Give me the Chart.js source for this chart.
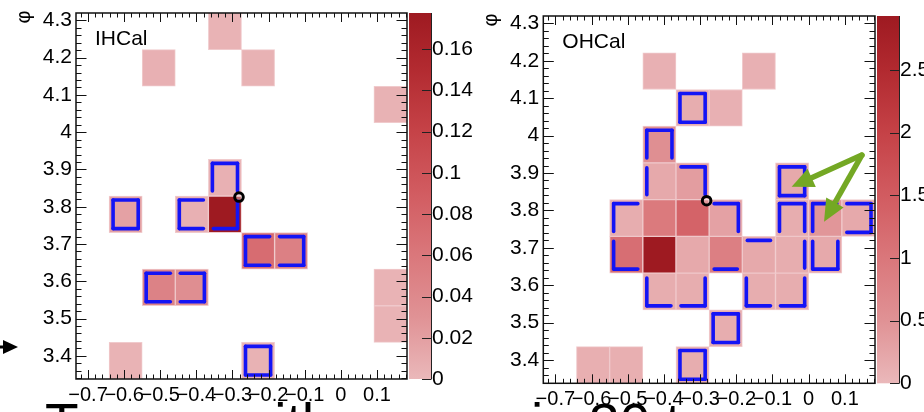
<!DOCTYPE html>
<html>
<head>
<meta charset="utf-8">
<script src="https://cdn.jsdelivr.net/npm/chart.js@4.4.0/dist/chart.umd.min.js"></script>
<style>
  body { margin: 0; background: #fff; width: 924px; height: 412px; overflow: hidden; position: relative; }
  canvas { position: absolute; top: 0; }
  #ihcal { left: 0; }
  #ohcal { left: 460px; }
  #caption { position: absolute; left: 45px; top: 396px; font: 55px "Liberation Sans", Arial, sans-serif; line-height: 1; white-space: nowrap; color: #000; }
</style>
</head>
<body>
<canvas id="ihcal" width="480" height="412"></canvas>
<canvas id="ohcal" width="464" height="412"></canvas>
<div id="caption">Towers with energy in 30 t</div>
<script>
// tower grid (eta = x, phi = y), 10 x 10 bins shown
const etaEdges = [-0.7333, -0.6417, -0.5500, -0.4583, -0.3667, -0.2750, -0.1833, -0.0917, 0.0000, 0.0917, 0.1833];
const phiEdges = [3.3379, 3.4361, 3.5343, 3.6325, 3.7306, 3.8288, 3.9270, 4.0252, 4.1233, 4.2215, 4.3197];
const etaTicks = [-0.7, -0.6, -0.5, -0.4, -0.3, -0.2, -0.1, 0, 0.1];
const etaTickLabels = ["\u22120.7", "\u22120.6", "\u22120.5", "\u22120.4", "\u22120.3", "\u22120.2", "\u22120.1", "0", "0.1"];
const phiTicks = [3.4, 3.5, 3.6, 3.7, 3.8, 3.9, 4.0, 4.1, 4.2, 4.3];
const phiTickLabels = ["3.4", "3.5", "3.6", "3.7", "3.8", "3.9", "4", "4.1", "4.2", "4.3"];

// IHCal towers: eta bin, phi bin, energy, cluster id (0 = not clustered)
const ihcalEtaBin  = [4, 2, 5, 9, 4, 1, 3, 4, 5, 6, 2, 3, 9, 9, 1, 5];
const ihcalPhiBin  = [9, 8, 8, 7, 5, 4, 4, 4, 3, 3, 2, 2, 2, 1, 0, 0];
const ihcalEnergy  = [0.004, 0.006, 0.005, 0.005, 0.006, 0.018, 0.006, 0.1775, 0.072, 0.05, 0.048, 0.035, 0.004, 0.004, 0.004, 0.005];
const ihcalCluster = [0, 0, 0, 0, 1, 1, 1, 1, 1, 1, 1, 1, 0, 0, 0, 1];
const ihcalZMax = 0.1775;
const ihcalZTicks = [0, 0.02, 0.04, 0.06, 0.08, 0.1, 0.12, 0.14, 0.16];
const ihcalZLabels = ["0", "0.02", "0.04", "0.06", "0.08", "0.1", "0.12", "0.14", "0.16"];

// OHCal towers
const ohcalEtaBin  = [3, 6, 4, 5, 3, 3, 4, 7, 2, 3, 4, 5, 7, 8, 9, 2, 3, 4, 5, 6, 7, 8, 3, 4, 6, 7, 5, 1, 2, 4];
const ohcalPhiBin  = [8, 8, 7, 7, 6, 5, 5, 5, 4, 4, 4, 4, 4, 4, 4, 3, 3, 3, 3, 3, 3, 3, 2, 2, 2, 2, 1, 0, 0, 0];
const ohcalEnergy  = [0.10, 0.10, 0.15, 0.10, 0.55, 0.20, 0.35, 0.20, 0.15, 0.95, 1.35, 0.30, 0.15, 0.45, 0.20,
                      1.15, 2.93, 0.20, 0.85, 0.20, 0.15, 0.20, 0.15, 0.15, 0.15, 0.15, 0.15, 0.12, 0.12, 0.15];
const ohcalCluster = [0, 0, 1, 0, 1, 1, 1, 2, 1, 1, 1, 1, 1, 3, 3, 1, 1, 1, 1, 1, 1, 3, 1, 1, 1, 1, 1, 0, 0, 1];
const ohcalZMax = 2.93;
const ohcalZTicks = [0, 0.5, 1, 1.5, 2, 2.5];
const ohcalZLabels = ["0", "0.5", "1", "1.5", "2", "2.5"];

// leading jet axis and the annotation arrows (OHCal)
const leadEta = [-0.282];
const leadPhi = [3.826];
const arrowStartEta = [0.147, 0.147];
const arrowStartPhi = [3.948, 3.948];
const arrowEndEta = [-0.047, 0.0425];
const arrowEndPhi = [3.863, 3.770];

const palette = [
  [0.00, 234, 184, 186],
  [0.17, 224, 146, 149],
  [0.34, 218, 119, 123],
  [0.50, 210, 93, 98],
  [0.68, 197, 66, 71],
  [0.85, 178, 42, 48],
  [1.00, 158, 26, 33]
];

function heatColor(t) {
  t = Math.max(0, Math.min(1, t));
  for (let i = 1; i < palette.length; i++) {
    if (t <= palette[i][0]) {
      const a = palette[i - 1], b = palette[i];
      const f = (t - a[0]) / (b[0] - a[0]);
      const c = [1, 2, 3].map(k => Math.round(a[k] + (b[k] - a[k]) * f));
      return `rgb(${c[0]},${c[1]},${c[2]})`;
    }
  }
  return "rgb(158,26,33)";
}

Chart.defaults.font.family = '"Liberation Sans", Arial, Helvetica, sans-serif';
Chart.defaults.color = "#000";

// frame with ROOT-style inward ticks, colour bar, cluster outlines
const hcalPlugin = {
  id: "hcal",
  afterDatasetDraw(chart, args) {
    if (args.meta.type !== "bar") return;
    const ctx = chart.ctx;
    const xs = chart.scales.x, ys = chart.scales.y;
    const p = chart.options.plugins.hcal;
    const key = (e, f) => e + "," + f;
    const ids = {};
    p.etaBin.forEach((e, i) => { if (p.cluster[i]) ids[key(e, p.phiBin[i])] = p.cluster[i]; });
    ctx.save();
    ctx.strokeStyle = "#1414f5";
    ctx.lineWidth = 3.6;
    ctx.lineCap = "round";
    const ins = 4, gapIns = 5;
    p.etaBin.forEach((e, i) => {
      const id = p.cluster[i];
      if (!id) return;
      const f = p.phiBin[i];
      const x0 = xs.getPixelForValue(etaEdges[e]), x1 = xs.getPixelForValue(etaEdges[e + 1]);
      const y0 = ys.getPixelForValue(phiEdges[f + 1]), y1 = ys.getPixelForValue(phiEdges[f]);
      const top = ids[key(e, f + 1)] !== id, bot = ids[key(e, f - 1)] !== id;
      const lft = ids[key(e - 1, f)] !== id, rgt = ids[key(e + 1, f)] !== id;
      const seg = (ax, ay, bx, by) => { ctx.beginPath(); ctx.moveTo(ax, ay); ctx.lineTo(bx, by); ctx.stroke(); };
      if (top) seg(x0 + (lft ? ins : gapIns), y0 + ins, x1 - (rgt ? ins : gapIns), y0 + ins);
      if (bot) seg(x0 + (lft ? ins : gapIns), y1 - ins, x1 - (rgt ? ins : gapIns), y1 - ins);
      if (lft) seg(x0 + ins, y0 + (top ? ins : gapIns), x0 + ins, y1 - (bot ? ins : gapIns));
      if (rgt) seg(x1 - ins, y0 + (top ? ins : gapIns), x1 - ins, y1 - (bot ? ins : gapIns));
    });
    ctx.restore();
  },
  afterDraw(chart) {
    const ctx = chart.ctx;
    const a = chart.chartArea;
    const xs = chart.scales.x, ys = chart.scales.y, zs = chart.scales.z;
    const p = chart.options.plugins.hcal;
    ctx.save();
    // colour bar
    const bx0 = a.right + 2, bx1 = a.right + 24;
    const zt = zs.getPixelForValue(zs.max), zb = zs.getPixelForValue(0);
    const g = ctx.createLinearGradient(0, zb, 0, zt);
    palette.forEach(s => g.addColorStop(s[0], `rgb(${s[1]},${s[2]},${s[3]})`));
    ctx.fillStyle = g;
    ctx.fillRect(bx0, zt, bx1 - bx0, zb - zt);
    ctx.strokeStyle = "#222";
    ctx.lineWidth = 1;
    ctx.beginPath();
    ctx.moveTo(bx1 + 0.5, zt); ctx.lineTo(bx1 + 0.5, zb);
    zs.ticks.forEach((t, i) => {
      const yy = Math.round(zs.getPixelForTick(i)) + 0.5;
      ctx.moveTo(bx1 + 0.5, yy); ctx.lineTo(bx1 - 9, yy);
    });
    ctx.stroke();
    // frame
    ctx.strokeStyle = "#111";
    ctx.lineWidth = 1.5;
    ctx.strokeRect(a.left, a.top, a.right - a.left, a.bottom - a.top);
    ctx.lineWidth = 1;
    ctx.beginPath();
    const isMajor = v => Math.abs(v * 10 - Math.round(v * 10)) < 1e-6;
    for (let k = Math.ceil(xs.min / 0.02 - 1e-6); k * 0.02 <= xs.max + 1e-9; k++) {
      const v = k * 0.02, len = isMajor(v) ? 9 : 4.5;
      const xx = Math.round(xs.getPixelForValue(v)) + 0.5;
      ctx.moveTo(xx, a.bottom); ctx.lineTo(xx, a.bottom - len);
      ctx.moveTo(xx, a.top); ctx.lineTo(xx, a.top + len);
    }
    for (let k = Math.ceil(ys.min / 0.02 - 1e-6); k * 0.02 <= ys.max + 1e-9; k++) {
      const v = k * 0.02, len = isMajor(v) ? 10.5 : 5.5;
      const yy = Math.round(ys.getPixelForValue(v)) + 0.5;
      ctx.moveTo(a.left, yy); ctx.lineTo(a.left + len, yy);
      ctx.moveTo(a.right, yy); ctx.lineTo(a.right - len, yy);
    }
    ctx.stroke();
    // axis title (phi, rotated like ROOT draws it) and panel label
    ctx.fillStyle = "#000";
    ctx.save();
    ctx.translate(p.titleX, a.top + 4);
    ctx.rotate(-Math.PI / 2);
    ctx.font = '20px "Liberation Sans", Arial, sans-serif';
    ctx.textAlign = "center";
    ctx.textBaseline = "middle";
    ctx.fillText("\u03c6", 0, 0);
    ctx.restore();
    ctx.font = '21px "Liberation Sans", Arial, sans-serif';
    ctx.textBaseline = "top";
    ctx.fillText(p.label, a.left + 19, a.top + 16);
    // green arrows
    if (p.arrows) {
      ctx.strokeStyle = "#74a824";
      ctx.fillStyle = "#74a824";
      ctx.lineWidth = 5.5;
      ctx.lineCap = "round";
      arrowStartEta.forEach((e, i) => {
        const sx = xs.getPixelForValue(e), sy = ys.getPixelForValue(arrowStartPhi[i]);
        const ex = xs.getPixelForValue(arrowEndEta[i]), ey = ys.getPixelForValue(arrowEndPhi[i]);
        const ang = Math.atan2(ey - sy, ex - sx);
        const hl = 22, hw = 10;
        const bxp = ex - hl * Math.cos(ang), byp = ey - hl * Math.sin(ang);
        ctx.beginPath(); ctx.moveTo(sx, sy); ctx.lineTo(bxp, byp); ctx.stroke();
        ctx.beginPath();
        ctx.moveTo(ex, ey);
        ctx.lineTo(bxp + hw * Math.sin(ang), byp - hw * Math.cos(ang));
        ctx.lineTo(bxp - hw * Math.sin(ang), byp + hw * Math.cos(ang));
        ctx.closePath(); ctx.fill();
      });
    }
    // slide pointer on the far left
    if (p.pointer) {
      ctx.fillStyle = "#000";
      ctx.fillRect(0, 345.5, 6, 3);
      ctx.beginPath();
      ctx.moveTo(3, 340); ctx.lineTo(18, 347); ctx.lineTo(3, 354); ctx.closePath(); ctx.fill();
    }
    ctx.restore();
  }
};

const noPad = s => { s.paddingTop = 0; s.paddingBottom = 0; s.paddingLeft = 0; s.paddingRight = 0; };

function makeChart(id, p) {
  const cells = p.etaBin.map((e, i) => ({
    x: (etaEdges[e] + etaEdges[e + 1]) / 2,
    y: [phiEdges[p.phiBin[i]], phiEdges[p.phiBin[i] + 1]],
    v: p.energy[i]
  }));
  const hidden = { display: false };
  return new Chart(document.getElementById(id), {
    type: "bar",
    data: {
      datasets: [
        {
          type: "scatter",
          data: leadEta.map((e, i) => ({ x: e, y: leadPhi[i] })),
          xAxisID: "x", yAxisID: "y",
          pointStyle: "circle", pointRadius: 4.3, borderWidth: 3,
          borderColor: "#000", backgroundColor: "rgba(255,255,255,0.35)",
          order: 1
        },
        {
          type: "bar",
          data: cells,
          xAxisID: "xb", yAxisID: "y",
          backgroundColor: c => c.raw ? heatColor(c.raw.v / p.zMax) : "#fff",
          borderColor: "rgba(238,196,198,0.9)",
          borderWidth: 1,
          borderSkipped: false,
          grouped: false,
          barPercentage: 1,
          categoryPercentage: 1,
          order: 2
        }
      ]
    },
    options: {
      responsive: false,
      animation: false,
      events: [],
      layout: { padding: { top: p.top, left: 0, right: 0, bottom: 0 } },
      plugins: {
        legend: hidden,
        tooltip: { enabled: false },
        hcal: p
      },
      scales: {
        x: {
          type: "linear", position: "bottom",
          min: etaEdges[0], max: etaEdges[etaEdges.length - 1], offset: false,
          grid: { display: false, drawTicks: false }, border: hidden,
          afterBuildTicks: s => { s.ticks = etaTicks.map(v => ({ value: v })); },
          afterFit: s => { s.height = p.xHeight; noPad(s); },
          ticks: {
            autoSkip: false, maxRotation: 0, padding: 4,
            font: { size: 20 },
            callback: (v, i) => etaTickLabels[i]
          }
        },
        xb: {
          type: "linear", display: false,
          min: etaEdges[0], max: etaEdges[etaEdges.length - 1], offset: false,
          afterBuildTicks: s => { s.ticks = []; },
          ticks: { display: false }
        },
        y: {
          type: "linear", position: "left",
          min: phiEdges[0], max: phiEdges[phiEdges.length - 1],
          grid: { display: false, drawTicks: false }, border: hidden,
          afterBuildTicks: s => { s.ticks = phiTicks.map(v => ({ value: v })); },
          afterFit: s => { s.width = p.yWidth; noPad(s); },
          ticks: {
            autoSkip: false, padding: 4,
            font: { size: 21 },
            callback: (v, i) => phiTickLabels[i]
          }
        },
        z: {
          type: "linear", axis: "y", position: "right",
          min: 0, max: p.zMax,
          grid: { display: false, drawTicks: false }, border: hidden,
          afterBuildTicks: s => { s.ticks = p.zTicks.map(v => ({ value: v })); },
          afterFit: s => { s.width = p.zWidth; noPad(s); },
          ticks: {
            autoSkip: false, padding: 25,
            font: { size: 21 },
            callback: (v, i) => p.zLabels[i]
          }
        }
      }
    },
    plugins: [hcalPlugin]
  });
}

makeChart("ihcal", {
  label: "IHCal",
  etaBin: ihcalEtaBin, phiBin: ihcalPhiBin, energy: ihcalEnergy, cluster: ihcalCluster,
  zMax: ihcalZMax, zTicks: ihcalZTicks, zLabels: ihcalZLabels,
  top: 13, xHeight: 33, yWidth: 76, zWidth: 73, titleX: 24,
  arrows: false, pointer: true
});

makeChart("ohcal", {
  label: "OHCal",
  etaBin: ohcalEtaBin, phiBin: ohcalPhiBin, energy: ohcalEnergy, cluster: ohcalCluster,
  zMax: ohcalZMax, zTicks: ohcalZTicks, zLabels: ohcalZLabels,
  top: 16, xHeight: 28.7, yWidth: 83.3, zWidth: 49, titleX: 31.5,
  arrows: true, pointer: false
});
</script>
</body>
</html>
